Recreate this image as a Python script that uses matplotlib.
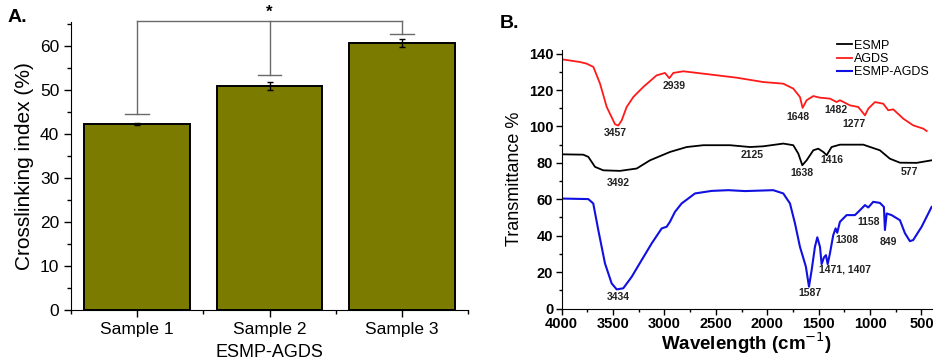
import numpy as np
import matplotlib
matplotlib.use("Agg")
import matplotlib.pyplot as plt
from matplotlib.ticker import MultipleLocator

plt.rcParams["font.family"] = ["Liberation Sans", "DejaVu Sans"]

# ---- panel A data
samples = ["Sample 1", "Sample 2", "Sample 3"]
crosslink = [42.3, 50.9, 60.6]
crosslink_err = [0.2, 1.0, 0.9]
bracket_tops = [44.5, 53.5, 62.7]

# ---- panel B data (wavenumber, transmittance)
agds_x = [4000, 3822, 3757, 3692, 3627, 3562, 3481, 3449, 3416, 3368, 3303, 3206,
          3076, 2995, 2953, 2914, 2817, 2622, 2298, 2039, 1844, 1747, 1682, 1656,
          1617, 1552, 1487, 1390, 1325, 1293, 1195, 1115, 1049, 1017, 952, 871,
          823, 774, 677, 580, 482, 449]
agds_y = [136.9, 135.4, 134.5, 132.7, 123.5, 110.7, 101.2, 100.5, 103.4, 110.7, 116.2, 121.7,
          128.1, 129.4, 126.5, 129.4, 130.3, 129.0, 126.8, 124.4, 123.5, 120.8, 116.2, 110.2,
          114.4, 116.7, 115.8, 115.3, 113.4, 114.4, 111.6, 110.7, 106.1, 109.8, 113.4, 112.5,
          108.9, 109.4, 104.3, 100.6, 98.8, 97.5]

esmp_x = [4000, 3790, 3741, 3676, 3595, 3433, 3270, 3141, 2946, 2784, 2622, 2363,
          2168, 2039, 1844, 1747, 1698, 1659, 1617, 1552, 1504, 1455, 1422, 1374,
          1293, 1066, 904, 807, 709, 547, 401]
esmp_y = [84.7, 84.5, 83.3, 77.8, 75.9, 75.6, 76.9, 81.4, 86.0, 88.7, 89.7, 89.7,
          88.7, 89.1, 90.6, 89.7, 85.1, 78.7, 81.4, 86.9, 87.8, 86.0, 84.2, 88.7,
          90.0, 90.0, 86.9, 82.3, 80.1, 80.0, 81.4]

mix_x = [4000, 3741, 3693, 3644, 3579, 3514, 3465, 3401, 3319, 3222, 3124, 3027,
         2979, 2947, 2898, 2833, 2703, 2541, 2379, 2217, 1942, 1844, 1779, 1730,
         1682, 1650, 1624, 1594, 1568, 1536, 1513, 1487, 1471, 1448, 1429, 1412,
         1390, 1358, 1335, 1319, 1293, 1228, 1147, 1098, 1049, 1017, 969, 904,
         865, 855, 838, 790, 709, 660, 612, 580, 498, 401]
mix_y = [60.4, 60.1, 57.7, 43.1, 24.8, 13.8, 10.5, 11.1, 17.4, 26.6, 35.8, 44.0,
         44.9, 47.6, 53.1, 57.7, 63.2, 64.6, 65.0, 64.5, 65.0, 63.2, 57.7, 46.7,
         33.9, 27.9, 22.9, 12.0, 21.1, 33.9, 39.1, 33.9, 24.4, 28.1, 29.3, 24.4,
         30.3, 40.3, 44.0, 41.6, 47.6, 51.3, 51.3, 54.0, 56.8, 55.5, 58.6, 58.0,
         55.8, 43.1, 52.2, 51.3, 48.5, 41.3, 37.0, 37.6, 44.9, 55.8]

peak_labels = ["3457", "2939", "1648", "1482", "1277", "2125", "1416", "3492",
               "1638", "577", "3434", "1587", "1471, 1407", "1308", "1158", "849"]
peak_x = [3475, 2908, 1698, 1335, 1157, 2152, 1374, 3449, 1659, 619, 3449, 1585,
          1244, 1228, 1017, 823]
peak_y = [96.4, 122.2, 105.2, 109.2, 101.1, 84.5, 81.8, 69.0, 74.5, 75.0, 6.4, 8.3,
          21.4, 37.5, 47.6, 36.6]

W, H = 934, 361
fig = plt.figure(figsize=(W / 100, H / 100), dpi=100)

# ================= panel A
axA = fig.add_axes([71 / W, 1 - 310 / H, (468 - 71) / W, (310 - 21.7) / H])
xpos = np.arange(len(samples))
axA.bar(xpos, crosslink, width=0.8, color="#7b7b00", edgecolor="black", linewidth=1.4,
        yerr=crosslink_err, capsize=2.5, error_kw=dict(elinewidth=1, capthick=1, ecolor="black"))
axA.set_xlim(-0.5, 2.5)
axA.set_ylim(0, 65.5)
axA.set_xticks(xpos)
axA.set_xticklabels(samples)
axA.xaxis.set_minor_locator(MultipleLocator(0.5))
axA.yaxis.set_major_locator(MultipleLocator(10))
axA.yaxis.set_minor_locator(MultipleLocator(5))
axA.tick_params(labelsize=12.5, length=5, width=1, direction="out")
axA.tick_params(which="minor", length=3, width=1)
axA.spines["top"].set_visible(False)
axA.spines["right"].set_visible(False)
axA.set_ylabel("Crosslinking index (%)", fontsize=15, labelpad=4)
axA.set_xlabel("ESMP-AGDS", fontsize=13, labelpad=5)

# significance bracket
top = 65.6
gray = "#6a6a6a"
axA.plot([0, 2], [top, top], color=gray, lw=1, clip_on=False)
for xi, yb in zip(xpos, bracket_tops):
    axA.plot([xi, xi], [yb, top], color=gray, lw=1, clip_on=False)
    axA.plot([xi - 0.09, xi + 0.09], [yb, yb], color=gray, lw=1, clip_on=False)
axA.text(1, 66.0, "*", ha="center", va="bottom", fontsize=12, fontweight="bold",
         clip_on=False)
fig.text(8 / W, 1 - 18 / H, "A.", fontsize=14, fontweight="bold", va="center")

# ================= panel B
axB = fig.add_axes([561.7 / W, 1 - 308.5 / H, 370 / W, (308.5 - 50) / H])
axB.plot(esmp_x, esmp_y, color="black", lw=1.3, label="ESMP")
axB.plot(agds_x, agds_y, color="#ff1a1a", lw=1.3, label="AGDS")
axB.plot(mix_x, mix_y, color="#1010e0", lw=1.5, label="ESMP-AGDS")
axB.set_xlim(4000, 400)
axB.set_ylim(0, 142)
axB.xaxis.set_major_locator(MultipleLocator(500))
axB.xaxis.set_minor_locator(MultipleLocator(250))
axB.yaxis.set_major_locator(MultipleLocator(20))
axB.yaxis.set_minor_locator(MultipleLocator(10))
axB.tick_params(labelsize=10.5, length=4, width=1, direction="out", pad=2)
axB.tick_params(which="minor", length=2.5, width=1)
for lab in axB.get_xticklabels() + axB.get_yticklabels():
    lab.set_fontweight("bold")
axB.spines["top"].set_visible(False)
axB.spines["right"].set_visible(False)
axB.set_ylabel("Transmittance %", fontsize=13, labelpad=4)
axB.set_xlabel("Wavelength (cm$^{-1}$)", fontsize=13.5, fontweight="bold", labelpad=0)
for t, px, py in zip(peak_labels, peak_x, peak_y):
    axB.text(px, py, t, fontsize=7.5, fontweight="bold", ha="center", va="center",
             color="#222222")
axB.legend(loc="upper left", bbox_to_anchor=(0.745, 1.04), frameon=False, fontsize=9,
           handlelength=1.2, handletextpad=0.15, labelspacing=0.1, borderpad=0,
           borderaxespad=0)
fig.text(500 / W, 1 - 24 / H, "B.", fontsize=14, fontweight="bold", va="center")

fig.savefig("out.png", dpi=100)
